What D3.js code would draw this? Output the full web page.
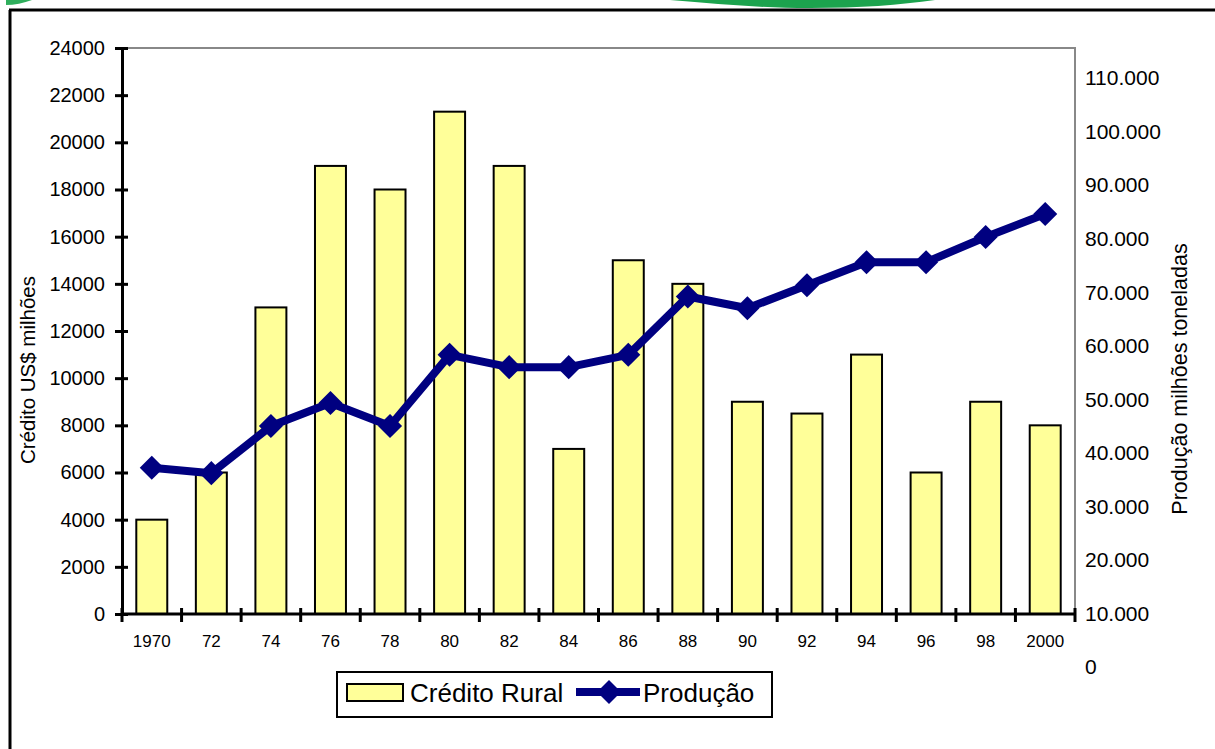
<!DOCTYPE html>
<html>
<head>
<meta charset="utf-8">
<script src="https://cdn.jsdelivr.net/npm/d3@7"></script>
<style>
  body { margin: 0; background: #fff; }
  svg { display: block; font-family: "Liberation Sans", Arial, sans-serif; }
</style>
</head>
<body>
<script>
// Dimensions de la page
var larg = 1215;
var haut = 749;

// Données
var anos = ["1970", "72", "74", "76", "78", "80", "82", "84", "86", "88", "90", "92", "94", "96", "98", "2000"];
var credito = [4000, 6000, 13000, 19000, 18000, 21300, 19000, 7000, 15000, 14000, 9000, 8500, 11000, 6000, 9000, 8000];
var producao = [37.2, 36.2, 45.0, 49.3, 45.0, 58.3, 56.0, 56.0, 58.3, 69.2, 67.0, 71.3, 75.6, 75.6, 80.3, 84.6];
var ticksEsq = [0, 2000, 4000, 6000, 8000, 10000, 12000, 14000, 16000, 18000, 20000, 22000, 24000];
var ticksDir = [0, 10, 20, 30, 40, 50, 60, 70, 80, 90, 100, 110];

// Zone du tracé
var x0 = 122, x1 = 1075, yTop = 48, yBas = 614;

var svg = d3.select("body").append("svg")
  .attr("width", larg)
  .attr("height", haut);

// Restes verts de l'image en haut
svg.append("path")
  .attr("d", "M670,0 C720,4 760,8 810,8 C860,8 900,5 935,0 Z")
  .attr("fill", "#1ca34e");
svg.append("path")
  .attr("d", "M6,0 L32,0 C24,3 14,5 6,5 Z")
  .attr("fill", "#2fae5c");

// Cadre extérieur
svg.append("line").attr("x1", 9).attr("x2", larg).attr("y1", 10).attr("y2", 10)
  .attr("stroke", "#000").attr("stroke-width", 3);
svg.append("line").attr("x1", 10).attr("x2", 10).attr("y1", 10).attr("y2", haut)
  .attr("stroke", "#000").attr("stroke-width", 3);

// Echelles
var x = d3.scaleBand().domain(anos).range([x0, x1]).paddingInner(0.48).paddingOuter(0.24);
var yEsq = d3.scaleLinear().domain([0, 24000]).range([yBas, yTop]);
var yDir = d3.scaleLinear().domain([0, 110]).range([667, 78]);

// Bordure grise haut + droite
svg.append("path")
  .attr("d", "M" + x0 + "," + yTop + " H" + x1 + " V" + yBas)
  .attr("fill", "none").attr("stroke", "#888").attr("stroke-width", 2);

// Barres
svg.selectAll("rect.bar")
  .data(credito)
  .enter()
  .append("rect")
  .attr("class", "bar")
  .attr("x", function(d, i) { return x(anos[i]); })
  .attr("y", function(d) { return yEsq(d); })
  .attr("width", x.bandwidth())
  .attr("height", function(d) { return yBas - yEsq(d); })
  .attr("fill", "#ffff99")
  .attr("stroke", "#000")
  .attr("stroke-width", 2);

// Axe gauche
var axeEsq = svg.append("g")
  .attr("transform", "translate(" + x0 + ",0)")
  .call(d3.axisLeft(yEsq).tickValues(ticksEsq).tickSize(7).tickPadding(10).tickFormat(d3.format("d")));
axeEsq.select(".domain").attr("stroke-width", 3);
axeEsq.selectAll(".tick line").attr("x1", 6).attr("stroke-width", 3);
axeEsq.selectAll("text").attr("font-size", "20px").attr("font-family", "Liberation Sans, Arial, sans-serif").attr("fill", "#000");

// Axe du bas (ticks entre les catégories)
var bas = svg.append("g");
bas.append("line").attr("x1", x0).attr("x2", x1).attr("y1", yBas).attr("y2", yBas)
  .attr("stroke", "#000").attr("stroke-width", 3);
bas.selectAll("line.tk")
  .data(d3.range(anos.length + 1))
  .enter()
  .append("line")
  .attr("class", "tk")
  .attr("x1", function(i) { return x0 + i * x.step(); })
  .attr("x2", function(i) { return x0 + i * x.step(); })
  .attr("y1", yBas - 6)
  .attr("y2", yBas + 8)
  .attr("stroke", "#000")
  .attr("stroke-width", 3);
bas.selectAll("text")
  .data(anos)
  .enter()
  .append("text")
  .text(function(d) { return d; })
  .attr("x", function(d) { return x(d) + x.bandwidth() / 2; })
  .attr("y", 647)
  .attr("text-anchor", "middle")
  .attr("font-size", "17px");

// Axe droit (libellés seulement)
svg.selectAll("text.dir")
  .data(ticksDir)
  .enter()
  .append("text")
  .attr("class", "dir")
  .text(function(d) { return d === 0 ? "0" : d + ".000"; })
  .attr("x", 1085)
  .attr("y", function(d) { return yDir(d); })
  .attr("dy", "0.35em")
  .attr("font-size", "21px");

// Ligne de production
var ligne = d3.line()
  .x(function(d, i) { return x(anos[i]) + x.bandwidth() / 2; })
  .y(function(d) { return yDir(d); });
svg.append("path")
  .datum(producao)
  .attr("d", ligne)
  .attr("fill", "none")
  .attr("stroke", "#000080")
  .attr("stroke-width", 8)
  .attr("stroke-linejoin", "round");
var losange = d3.symbol().type(d3.symbolSquare).size(290);
svg.selectAll("path.mk")
  .data(producao)
  .enter()
  .append("path")
  .attr("class", "mk")
  .attr("d", losange)
  .attr("transform", function(d, i) {
    return "translate(" + (x(anos[i]) + x.bandwidth() / 2) + "," + yDir(d) + ") rotate(45)";
  })
  .attr("fill", "#000080");

// Titres des axes
svg.append("text")
  .text("Crédito US$ milhões")
  .attr("transform", "translate(35,370) rotate(-90)")
  .attr("text-anchor", "middle")
  .attr("font-size", "20.5px");
svg.append("text")
  .text("Produção milhões toneladas")
  .attr("transform", "translate(1187,379) rotate(-90)")
  .attr("text-anchor", "middle")
  .attr("font-size", "21.5px");

// Légende
var leg = svg.append("g");
leg.append("rect").attr("x", 337).attr("y", 672).attr("width", 435).attr("height", 45)
  .attr("fill", "#fff").attr("stroke", "#000").attr("stroke-width", 2);
leg.append("rect").attr("x", 347).attr("y", 684).attr("width", 56).attr("height", 17)
  .attr("fill", "#ffff99").attr("stroke", "#000").attr("stroke-width", 2);
leg.append("text").text("Crédito Rural").attr("x", 410).attr("y", 702).attr("font-size", "26px");
leg.append("line").attr("x1", 576).attr("x2", 640).attr("y1", 692).attr("y2", 692)
  .attr("stroke", "#000080").attr("stroke-width", 8);
leg.append("path").attr("d", losange).attr("transform", "translate(609,692) rotate(45)").attr("fill", "#000080");
leg.append("text").text("Produção").attr("x", 643).attr("y", 702).attr("font-size", "26px");
</script>
</body>
</html>
